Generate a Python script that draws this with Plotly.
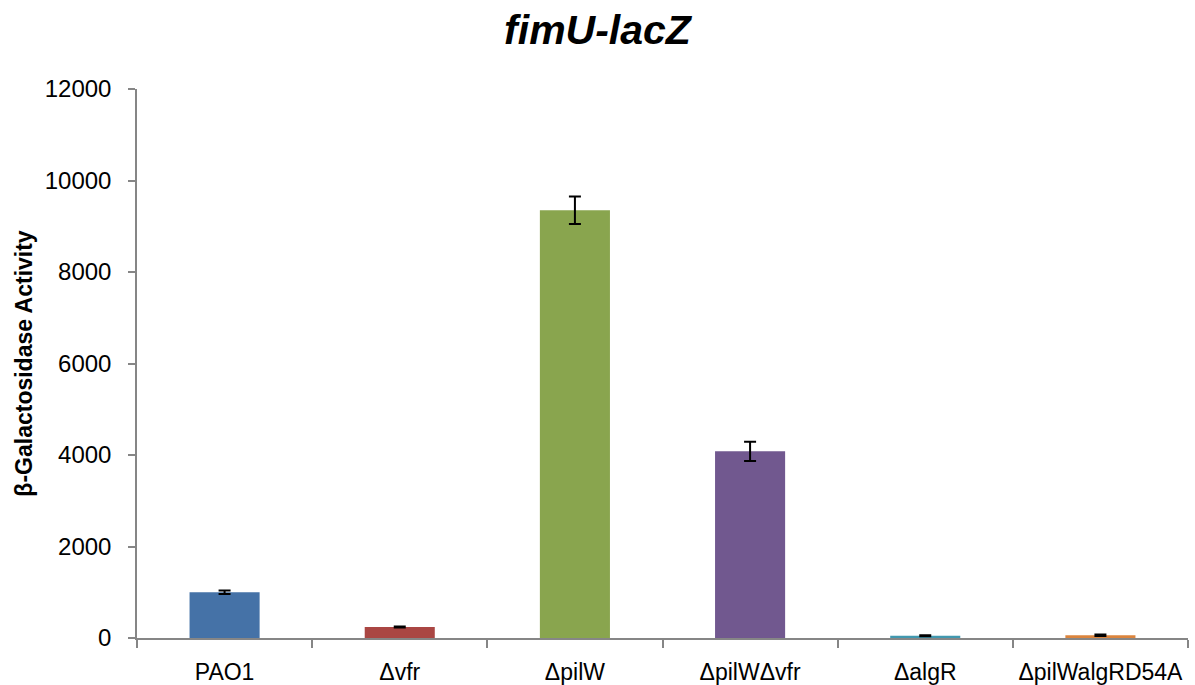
import plotly.graph_objects as go

categories = ["PAO1", "Δvfr", "ΔpilW", "ΔpilWΔvfr", "ΔalgR", "ΔpilWalgRD54A"]
activity = [1000, 240, 9350, 4080, 50, 60]
errors = [40, 12, 300, 210, 10, 15]
bar_colors = ["#4572A7", "#AA4643", "#89A54E", "#71588F", "#4198AF", "#DB843D"]
y_ticks = [0, 2000, 4000, 6000, 8000, 10000, 12000]

FONT = "Liberation Sans"
GREY = "#868686"

fig = go.Figure(
    go.Bar(
        x=categories,
        y=activity,
        width=0.4,
        marker=dict(color=bar_colors, line=dict(width=0)),
        error_y=dict(type="data", array=errors, visible=True,
                     color="black", thickness=2, width=6),
    )
)

fig.update_layout(
    width=1195,
    height=685,
    paper_bgcolor="white",
    plot_bgcolor="white",
    margin=dict(l=137, r=7, t=89, b=47, autoexpand=False),
    showlegend=False,
    title=dict(
        text="<b><i>fimU-lacZ</i></b>",
        x=0.5, xanchor="center",
        y=0.956, yanchor="middle",
        font=dict(family=FONT, size=41, color="black"),
    ),
    font=dict(family=FONT, color="black"),
)

fig.update_xaxes(
    type="category",
    automargin=False,
    tickangle=0,
    showline=True, linecolor=GREY, linewidth=1.5,
    ticks="outside", tickson="boundaries", ticklen=8, tickcolor=GREY, tickwidth=1.5,
    tickfont=dict(family=FONT, size=23, color="black"),
    ticklabelstandoff=13,
    showgrid=False, zeroline=False,
)

fig.update_yaxes(
    range=[0, 12000],
    automargin=False,
    tickvals=y_ticks,
    ticktext=[str(v) for v in y_ticks],
    showline=True, linecolor=GREY, linewidth=1.5,
    ticks="outside", ticklen=7, tickcolor=GREY, tickwidth=1.5,
    tickfont=dict(family=FONT, size=24, color="black"),
    ticklabelstandoff=12,
    showgrid=False, zeroline=False,
    title=dict(text="<b>β-Galactosidase Activity</b>",
               font=dict(family=FONT, size=23, color="black"),
               standoff=6),
)

fig.write_html(
    "out.html",
    config={"displayModeBar": False},
    post_script="document.body.style.margin='0';document.body.style.overflow='hidden';",
)
